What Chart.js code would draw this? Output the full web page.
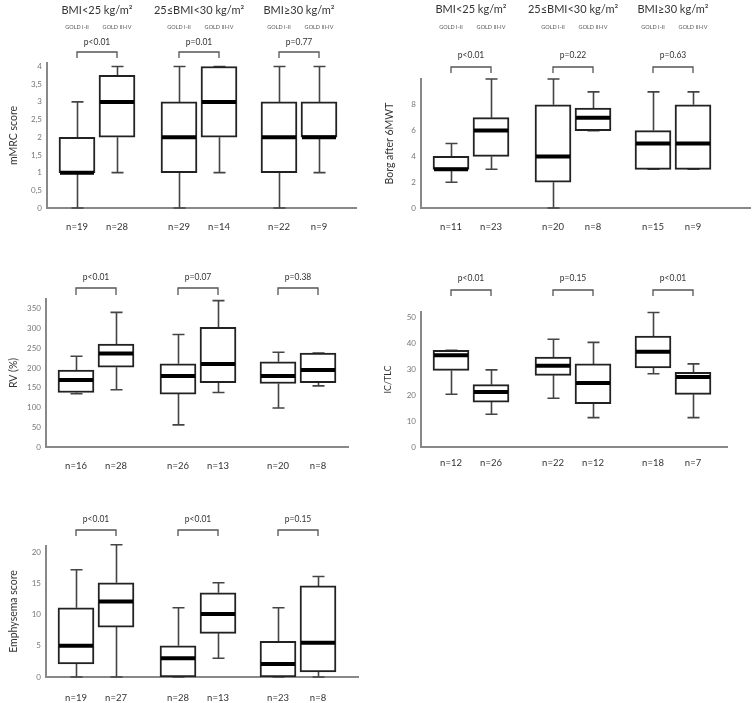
<!DOCTYPE html>
<html>
<head>
<meta charset="utf-8">
<script src="https://cdn.jsdelivr.net/npm/chart.js@4"></script>
<style>
  body { margin: 0; background: #fff; }
  #wrap { position: relative; width: 753px; height: 703px; overflow: hidden; }
  canvas { position: absolute; }
</style>
</head>
<body>
<div id="wrap">
  <canvas id="mmrc" width="376" height="240" style="left:0;top:0"></canvas>
  <canvas id="borg" width="377" height="240" style="left:376px;top:0"></canvas>
  <canvas id="rv" width="376" height="235" style="left:0;top:240px"></canvas>
  <canvas id="ictlc" width="377" height="235" style="left:376px;top:240px"></canvas>
  <canvas id="emph" width="376" height="228" style="left:0;top:475px"></canvas>
</div>
<script>
// box positions on the x axis: GOLD I-II / GOLD III-IV inside each BMI group
const slots = [0.75, 1.75, 3.3, 4.3, 5.8, 6.8];
const bmiGroups = ["BMI<25 kg/m²", "25≤BMI<30 kg/m²", "BMI≥30 kg/m²"];
const goldLabels = ["GOLD I-II", "GOLD III-IV"];

// mMRC score
const mmrcMin = [0, 1, 0, 1, 0, 1];
const mmrcQ1 = [1, 2, 1, 2, 1, 2];
const mmrcMed = [1, 3, 2, 3, 2, 2];
const mmrcQ3 = [2, 3.75, 3, 4, 3, 3];
const mmrcMax = [3, 4, 4, 4, 4, 4];
const mmrcN = [19, 28, 29, 14, 22, 9];
const mmrcP = ["p<0.01", "p=0.01", "p=0.77"];
const mmrcTicks = [0, 0.5, 1, 1.5, 2, 2.5, 3, 3.5, 4];

// Borg after 6MWT
const borgMin = [2, 3, 0, 6, 3, 3];
const borgQ1 = [3, 4, 2, 6, 3, 3];
const borgMed = [3, 6, 4, 7, 5, 5];
const borgQ3 = [4, 7, 8, 7.75, 6, 8];
const borgMax = [5, 10, 10, 9, 9, 9];
const borgN = [11, 23, 20, 8, 15, 9];
const borgP = ["p<0.01", "p=0.22", "p=0.63"];
const borgTicks = [0, 2, 4, 6, 8];

// RV (%)
const rvMin = [135, 145, 56, 138, 99, 155];
const rvQ1 = [138, 202, 134, 163, 161, 163];
const rvMed = [170, 237, 180, 210, 180, 195];
const rvQ3 = [195, 261, 211, 303, 216, 238];
const rvMax = [230, 341, 285, 371, 240, 238];
const rvN = [16, 28, 26, 13, 20, 8];
const rvP = ["p<0.01", "p=0.07", "p=0.38"];
const rvTicks = [0, 50, 100, 150, 200, 250, 300, 350];

// IC/TLC
const icMin = [20.3, 12.6, 18.8, 11.3, 28.2, 11.3];
const icQ1 = [29.5, 17.3, 27.6, 16.7, 30.5, 20.3];
const icMed = [35.3, 21.2, 31.3, 24.7, 36.7, 27];
const icQ3 = [37.2, 24, 34.6, 32, 42.7, 28.8];
const icMax = [37.2, 29.7, 41.5, 40.3, 51.8, 32];
const icN = [12, 26, 22, 12, 18, 7];
const icP = ["p<0.01", "p=0.15", "p<0.01"];
const icTicks = [0, 10, 20, 30, 40, 50];

// Emphysema score
const emMin = [0, 0, 0, 3, 0, 0];
const emQ1 = [2.1, 8, 0, 7, 0, 0.8];
const emMed = [5, 12.1, 3, 10.1, 2.1, 5.5];
const emQ3 = [11.1, 15.1, 5, 13.5, 5.7, 14.6];
const emMax = [17.2, 21.2, 11.1, 15.1, 11.1, 16.1];
const emN = [19, 27, 28, 13, 23, 8];
const emP = ["p<0.01", "p<0.01", "p=0.15"];
const emTicks = [0, 5, 10, 15, 20];

const FONT = "Lato, 'Open Sans', sans-serif";

function extras(d) {
  return {
    id: "boxExtras",
    beforeDatasetsDraw(chart) {
      const ctx = chart.ctx, xs = chart.scales.x, ys = chart.scales.y;
      ctx.save();
      ctx.strokeStyle = "#444";
      ctx.lineWidth = 1.6;
      slots.forEach((s, i) => {
        const px = Math.round(xs.getPixelForValue(s)) + 0.5;
        const yMax = ys.getPixelForValue(d.max[i]), yMin = ys.getPixelForValue(d.min[i]);
        ctx.beginPath();
        ctx.moveTo(px, ys.getPixelForValue(d.q3[i])); ctx.lineTo(px, yMax);
        ctx.moveTo(px - 6, yMax); ctx.lineTo(px + 6, yMax);
        ctx.moveTo(px, ys.getPixelForValue(d.q1[i])); ctx.lineTo(px, yMin);
        ctx.moveTo(px - 6, yMin); ctx.lineTo(px + 6, yMin);
        ctx.stroke();
      });
      ctx.restore();
    },
    afterDatasetsDraw(chart) {
      const ctx = chart.ctx, xs = chart.scales.x, ys = chart.scales.y;
      ctx.save();
      ctx.strokeStyle = "#000";
      ctx.lineWidth = 4;
      slots.forEach((s, i) => {
        const px = xs.getPixelForValue(s), py = ys.getPixelForValue(d.med[i]);
        ctx.beginPath();
        ctx.moveTo(px - 17, py); ctx.lineTo(px + 17, py);
        ctx.stroke();
      });
      ctx.restore();
    },
    afterDraw(chart) {
      const ctx = chart.ctx, xs = chart.scales.x;
      ctx.save();
      ctx.textAlign = "center";
      ctx.textBaseline = "middle";
      for (let g = 0; g < 3; g++) {
        const a = xs.getPixelForValue(slots[g * 2]), b = xs.getPixelForValue(slots[g * 2 + 1]);
        const mid = (a + b) / 2;
        if (d.titleY) {
          ctx.fillStyle = "#333";
          ctx.font = "11px " + FONT;
          ctx.fillText(bmiGroups[g], mid, d.titleY);
          ctx.fillStyle = "#555";
          ctx.font = "5.5px " + FONT;
          ctx.fillText(goldLabels[0], a, d.goldY);
          ctx.fillText(goldLabels[1], b, d.goldY);
        }
        ctx.fillStyle = "#333";
        ctx.font = "8.5px " + FONT;
        ctx.fillText(d.p[g], mid, d.pY);
        ctx.strokeStyle = "#555";
        ctx.lineWidth = 1.3;
        ctx.beginPath();
        ctx.moveTo(a, d.brB); ctx.lineTo(a, d.brT); ctx.lineTo(b, d.brT); ctx.lineTo(b, d.brB);
        ctx.stroke();
      }
      ctx.restore();
    }
  };
}

function boxPlot(id, d) {
  new Chart(document.getElementById(id), {
    type: "bar",
    data: {
      datasets: [{
        data: slots.map((x, i) => ({ x: x, y: [d.q1[i], d.q3[i]] })),
        backgroundColor: "#fff",
        borderColor: "#222",
        borderWidth: 2,
        borderSkipped: false,
        barThickness: 36
      }]
    },
    options: {
      responsive: false,
      animation: false,
      layout: { padding: { top: d.top, right: d.right, left: 0, bottom: 0 } },
      plugins: { legend: { display: false }, tooltip: { enabled: false } },
      scales: {
        x: {
          type: "linear", min: 0, max: d.xMax, offset: false,
          grid: { display: false, offset: false, drawTicks: false },
          border: { color: "#888", width: 2 },
          afterBuildTicks: s => { s.ticks = slots.map(v => ({ value: v })); },
          afterFit: s => { s.height = d.xh; },
          ticks: {
            autoSkip: false, maxRotation: 0, padding: d.nPad, color: "#333",
            font: { family: FONT, size: 9.5 },
            callback: (v, i) => "n=" + d.n[i]
          }
        },
        y: {
          min: 0, max: d.yMax,
          grid: { display: false, drawTicks: false },
          border: { color: "#888", width: 2 },
          afterBuildTicks: s => { s.ticks = d.ticks.map(v => ({ value: v })); },
          afterFit: s => { s.width = d.yw; },
          ticks: {
            padding: 5, color: "#777",
            font: { family: FONT, size: 8 },
            callback: v => d.comma ? String(v).replace(".", ",") : String(v)
          },
          title: {
            display: true, text: d.title, color: "#333",
            font: { family: FONT, size: d.titleSize || 10.5 },
            padding: { top: 7, bottom: 0 }
          }
        }
      }
    },
    plugins: [extras(d)]
  });
}

boxPlot("mmrc", {
  min: mmrcMin, q1: mmrcQ1, med: mmrcMed, q3: mmrcQ3, max: mmrcMax, n: mmrcN, p: mmrcP,
  ticks: mmrcTicks, yMax: 4.1, comma: true, title: "mMRC score",
  top: 63, right: 20, xh: 32, yw: 47, xMax: 309 / 40, nPad: 13,
  titleY: 10, goldY: 27, pY: 42, brT: 52, brB: 58
});
boxPlot("borg", {
  min: borgMin, q1: borgQ1, med: borgMed, q3: borgQ3, max: borgMax, n: borgN, p: borgP,
  ticks: borgTicks, yMax: 10, title: "Borg after 6MWT",
  top: 79, right: 3, xh: 32, yw: 45, xMax: 329 / 40, nPad: 13,
  titleY: 9, goldY: 27, pY: 55, brT: 67, brB: 73
});
boxPlot("rv", {
  min: rvMin, q1: rvQ1, med: rvMed, q3: rvQ3, max: rvMax, n: rvN, p: rvP,
  ticks: rvTicks, yMax: 375, title: "RV (%)",
  top: 59, right: 28, xh: 28, yw: 46, xMax: 302 / 40, nPad: 13,
  pY: 37, brT: 48, brB: 55
});
boxPlot("ictlc", {
  min: icMin, q1: icQ1, med: icMed, q3: icQ3, max: icMax, n: icN, p: icP,
  ticks: icTicks, yMax: 52, title: "IC/TLC", titleSize: 9,
  top: 72, right: 26, xh: 28, yw: 45, xMax: 306 / 40, nPad: 10,
  pY: 38, brT: 50, brB: 56
});
boxPlot("emph", {
  min: emMin, q1: emQ1, med: emMed, q3: emQ3, max: emMax, n: emN, p: emP,
  ticks: emTicks, yMax: 21, title: "Emphysema score",
  top: 71, right: 18, xh: 26, yw: 46, xMax: 312 / 40, nPad: 15,
  pY: 44, brT: 55, brB: 61
});
</script>
</body>
</html>
